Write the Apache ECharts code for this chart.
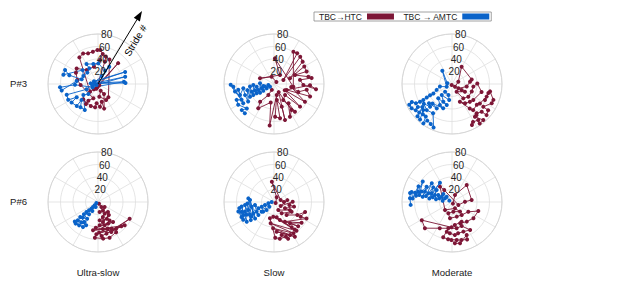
<!DOCTYPE html>
<html><head><meta charset="utf-8">
<script src="https://cdn.jsdelivr.net/npm/echarts@6/dist/echarts.min.js"></script>
<style>html,body{margin:0;padding:0;background:#fff}#c{width:624px;height:300px}</style>
</head><body><div id="c"></div>
<script>
const rowLabels = ['P#3', 'P#6'];
const colLabels = ['Ultra-slow', 'Slow', 'Moderate'];
const seriesNames = ['TBC→HTC', 'TBC → AMTC'];
const radialTicks = [20, 40, 60, 80];
const arrowLabel = 'Stride #';

// each point: [radius (stride #), phase angle in degrees, clockwise from top]
const p3UltraHTC = [[3,135],[5.4,191],[46.4,44],[10.7,217],[17.7,226],[52,325],[54.4,334],[51.5,342],[52.4,351],[54.4,359],[54.6,4],[48.6,9],[38.5,5],[28.5,347],[28.8,321],[42.3,306],[39.6,297],[33.7,281],[27.8,267],[24.1,198],[30.8,210],[37.3,211],[34,224],[37.1,198],[37.6,187],[31,184],[36.4,175],[28.9,168],[40.6,166],[18.7,149],[11.5,158],[20.4,174],[28.6,153],[27,142],[43.4,25],[45.6,16],[37.4,17],[8,200]];
const p3UltraAMTC = [[2.7,233],[7.7,304],[47.5,66],[11.8,275],[41.8,85],[10,238],[36.8,268],[61,265],[59,260],[34.5,278],[27.2,286],[48,287],[57.3,293],[57.3,285],[33.2,312],[26.7,299],[24.9,317],[28.6,331],[36.8,330],[32.9,347],[33,1],[24.1,28],[33.1,33],[14,25],[20,245],[53,251],[54,242],[40.2,238],[51.6,235],[49,224],[36.6,226],[46.5,217],[46.5,207],[29.3,233],[22.2,224],[9,250],[45,75],[6,280],[44,88]];
const p3SlowHTC = [[5,50],[12.3,342],[24.2,292],[17.3,34],[41,2],[31.2,98],[60.3,31],[61.7,37],[16.3,67],[60.4,44],[58.1,52],[27.2,70],[55.9,60],[55.9,69],[36.6,67],[56.2,78],[61,81],[42.1,81],[47,92],[67.7,97],[57.6,92],[22.4,115],[61,109],[53.1,100],[40.8,108],[28,100],[57.1,120],[20,120],[55.2,131],[25,135],[29.6,150],[55.6,143],[38.5,143],[58.2,154],[50.3,146],[15,150],[60.2,163],[38.3,161],[26,170],[55.8,170],[52.3,178],[18.1,166],[66.6,186],[30,190],[46.3,213],[36,218],[19.8,207],[10,200]];
const p3SlowAMTC = [[7.7,236],[9.2,260],[13.6,239],[15,254],[17.4,259],[20.1,238],[20.9,251],[22.4,273],[26.3,238],[26.8,249],[28,261],[31.5,242],[32.2,251],[33.1,267],[37.5,242],[37.8,251],[38.6,264],[43.4,242],[43.7,257],[49.9,236],[49.6,249],[49.6,262],[57.2,252],[57.9,261],[58,238],[65.2,266],[69.3,269],[63.6,259],[57.7,244],[65,247],[66.2,240],[58.6,228],[66.4,231],[66,225]];
const p3ModHTC = [[1.7,198],[6.4,132],[10.8,70],[31.7,29],[32.3,77],[29,83],[23.9,100],[12.3,124],[18.2,122],[24.1,121],[14.4,149],[29.2,142],[33.1,128],[33.8,111],[34.4,97],[40.5,89],[49,105],[42.7,127],[40.4,135],[37.3,146],[31,156],[48.4,144],[53.8,141],[51.8,130],[54.4,125],[59,110],[58.7,116],[60,104],[62,101],[70.9,111],[70.6,116],[61.9,126],[71.5,126],[74.4,132],[64.9,133],[61.3,140],[63.4,142],[63.9,145],[76.4,139],[77.2,145],[71.4,144],[69.3,151],[72.8,154]];
const p3ModAMTC = [[7.5,278],[26.3,324],[9.5,243],[19.7,258],[26.3,249],[33.4,243],[39.4,243],[45.8,242],[52.5,241],[58.5,241],[65.4,242],[70.4,246],[76.1,244],[75.4,239],[71.7,234],[66,236],[60,232],[69.5,229],[75.5,227],[76.3,222],[62,228],[67.1,224],[66.8,219],[77.9,216],[70.7,214],[72.5,208],[75.5,203],[55.6,213],[58.1,224],[55,235],[50.5,224],[48,230],[46,212],[44,225],[41.3,200],[38.7,210],[31.7,224],[34.7,194],[31.5,206],[24.1,223],[26,190],[18.6,198],[16.6,222]];
const p6UltraHTC = [[3.1,149],[9.6,146],[13.3,127],[15.5,149],[16.2,171],[22.6,135],[21.5,150],[25.3,162],[29.5,175],[30.3,152],[33,166],[27,140],[37.4,176],[38.2,155],[35,148],[38.8,164],[40,143],[41.2,185],[44,170],[47.7,153],[46,190],[56.7,131],[51.8,183],[45,160],[52.4,165],[57.3,118],[52.5,156],[53.9,136],[54.7,174],[49,178],[51.8,146],[56.3,149],[60,162],[59.2,172],[57.3,185]];
const p6UltraAMTC = [[3.1,239],[7.5,225],[8.8,205],[11.3,225],[15.1,225],[17,212],[19.6,227],[24.6,229],[24.4,216],[29.9,229],[31.9,213],[34.7,224],[37.1,230],[38.5,214],[43.4,228],[41.7,207],[42.1,219],[48.5,230],[46.6,211],[49.8,226],[48.1,219]];
const p6SlowHTC = [[3,120],[8.6,30],[32.7,354],[11.1,73],[16,90],[21.6,82],[12.4,121],[29.9,89],[25,101],[32.9,103],[20.3,120],[28.6,117],[14.6,152],[21.9,146],[32.2,119],[29,136],[42.7,119],[52.3,108],[48.7,119],[58.4,117],[36,151],[55.3,127],[42.7,143],[54.7,135],[30.4,162],[55.1,143],[49.4,145],[24.9,170],[23.5,183],[58.5,142],[34.5,189],[58.9,148],[42.1,182],[64.9,149],[47.7,175],[58.7,154],[54.2,167],[63,159],[58.7,161],[59.4,171],[57.1,178],[26.9,194]];
const p6SlowAMTC = [[3.7,270],[9.3,257],[10.6,225],[15.2,252],[17.4,223],[21.1,249],[23,228],[25.1,232],[27,248],[30.8,261],[31.8,241],[32.6,230],[36.5,258],[37.7,241],[38.5,275],[40.1,229],[41.5,278],[42.8,237],[43.7,242],[42.7,267],[43,253],[47.1,232],[46.6,264],[48.4,245],[48.9,252],[53.9,234],[52.3,262],[53.3,247],[56.9,240],[54,253],[56.4,260],[57.3,245],[59.1,255]];
const p6ModHTC = [[3,150],[12.2,23],[35.9,41],[31.6,84],[20.8,89],[11.2,115],[22.8,327],[31.2,322],[17,221],[11.2,155],[20.1,140],[15.6,172],[19.1,198],[26.3,187],[24.6,162],[25.9,143],[30.4,121],[44.5,109],[43,127],[39.3,143],[36.5,159],[35,154],[37.1,173],[40.5,181],[56.4,239],[60.3,226],[46.3,205],[42.8,170],[41.4,158],[53.3,147],[50.8,159],[51.1,169],[53,175],[50.2,184],[48.2,190],[42.5,188],[58.2,194],[60,186],[61.3,173],[62.7,166],[64.6,158],[57.8,156],[67.4,169],[66.3,176],[60.8,181]];
const p6ModAMTC = [[4.8,297],[12.1,315],[12.6,298],[15.1,278],[18.6,297],[18.9,313],[21.1,286],[24.6,297],[26,280],[29.4,292],[31.2,308],[31.8,284],[35.4,293],[36.4,328],[36.7,279],[38,308],[40.3,290],[42.7,283],[44.2,313],[46.3,291],[47.7,280],[47.4,301],[51.3,289],[53.5,282],[57.1,305],[56.4,287],[58.4,280],[59.2,295],[61,284],[63.2,275],[66.6,284],[68.6,282],[67.5,275],[66.3,266]];

const panels = [
  {row: 0, col: 0, htc: p3UltraHTC, amtc: p3UltraAMTC},
  {row: 0, col: 1, htc: p3SlowHTC, amtc: p3SlowAMTC},
  {row: 0, col: 2, htc: p3ModHTC, amtc: p3ModAMTC},
  {row: 1, col: 0, htc: p6UltraHTC, amtc: p6UltraAMTC},
  {row: 1, col: 1, htc: p6SlowHTC, amtc: p6SlowAMTC},
  {row: 1, col: 2, htc: p6ModHTC, amtc: p6ModAMTC}
];

const FONT = "'Liberation Sans', Arial, Helvetica, sans-serif";
const RED = '#7d1636', BLUE = '#0a63c9', GRID = '#dedede';
const CX = [98, 274, 452], CY = [84, 202], R = 50;

const polar = [], angleAxis = [], radiusAxis = [], series = [];
function mk(name, data, color, idx) {
  return {
    name, type: 'line', coordinateSystem: 'polar', polarIndex: idx, data,
    symbol: 'circle', symbolSize: 4, showSymbol: true,
    lineStyle: {color, width: 0.9}, itemStyle: {color}, z: 2,
    emphasis: {disabled: true}
  };
}
panels.forEach((p, i) => {
  polar.push({center: [CX[p.col], CY[p.row]], radius: R});
  angleAxis.push({polarIndex: i, type: 'value', min: 0, max: 360, interval: 30, startAngle: 90, clockwise: true,
    axisLine: {lineStyle: {color: '#d2d2d2', width: 0.8}}, axisTick: {show: false}, axisLabel: {show: false},
    splitLine: {lineStyle: {color: GRID, width: 0.8}}});
  radiusAxis.push({polarIndex: i, type: 'value', min: 0, max: 80, interval: 20,
    axisLine: {show: false}, axisTick: {show: false}, axisLabel: {show: false},
    splitLine: {lineStyle: {color: GRID, width: 0.8}}});
  series.push(mk(seriesNames[0], p.htc, RED, i));
  series.push(mk(seriesNames[1], p.amtc, BLUE, i));
});
// overlay polars carrying the radial tick labels (slightly rotated ray, like the original)
panels.forEach((p, i) => {
  const j = panels.length + i;
  polar.push({center: [CX[p.col], CY[p.row]], radius: R});
  angleAxis.push({polarIndex: j, type: 'value', min: 0, max: 360, startAngle: 80, show: false});
  radiusAxis.push({polarIndex: j, type: 'value', min: 0, max: 80, interval: 20, z: 10,
    axisLine: {show: false}, axisTick: {show: false}, splitLine: {show: false},
    axisLabel: {showMinLabel: false, margin: 0, align: 'center', verticalAlign: 'middle',
      fontSize: 10, color: '#262626', fontFamily: FONT,
      formatter: v => radialTicks.includes(v) ? String(v) : ''}});
});

const graphic = [];
rowLabels.forEach((t, r) => graphic.push({type: 'text', left: 10, top: CY[r] - 6,
  style: {text: t, fontSize: 9.6, fill: '#1a1a1a', fontFamily: FONT}}));
colLabels.forEach((t, c) => graphic.push({type: 'text', x: CX[c], y: 272,
  style: {text: t, fontSize: 9.6, fill: '#1a1a1a', fontFamily: FONT, textAlign: 'center', textVerticalAlign: 'middle'}}));
// "Stride #" arrow on the first panel
graphic.push({type: 'line', shape: {x1: 98, y1: 84, x2: 137.2, y2: 19.2}, style: {stroke: '#000', lineWidth: 1}, z: 20});
graphic.push({type: 'polygon', shape: {points: [[142, 11], [139.9, 21.4], [133.8, 17.8]]}, style: {fill: '#000'}, z: 20});
graphic.push({type: 'text', x: 135.5, y: 40.5, rotation: 59 * Math.PI / 180, z: 20,
  style: {text: arrowLabel, fontSize: 10, fill: '#000', fontFamily: FONT, textAlign: 'center', textVerticalAlign: 'middle'}});

const chart = echarts.init(document.getElementById('c'), null, {renderer: 'svg'});
chart.setOption({
  animation: false,
  backgroundColor: '#fff',
  legend: {data: seriesNames, left: 314, top: 12, align: 'right', icon: 'rect', itemWidth: 27, itemHeight: 6, itemGap: 9,
    padding: [0, 2, 0, 5], borderColor: '#8c8c8c', borderWidth: 0.8,
    textStyle: {fontSize: 8.5, color: '#1a1a1a', fontFamily: FONT}, itemStyle: {borderWidth: 0}},
  polar, angleAxis, radiusAxis, series, graphic
});
</script></body></html>
